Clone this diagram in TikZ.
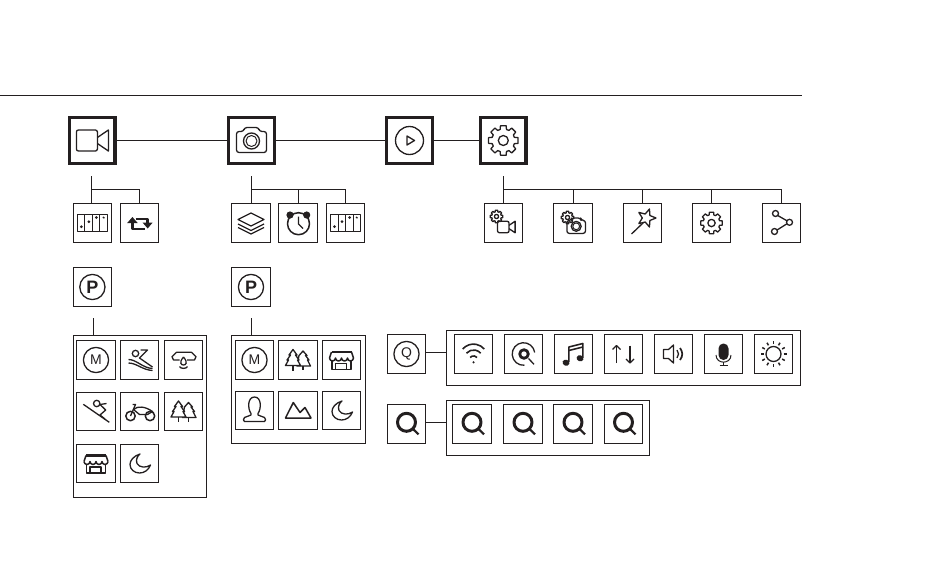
\documentclass[tikz,border=0pt]{standalone}
\usepackage{fontspec}
\setsansfont{Liberation Sans}
\definecolor{ink}{HTML}{231F20}

\tikzset{
	mainbox/.style={shape=rectangle,draw=ink,line width=3.3pt,minimum size=45.4pt,inner sep=0pt},
	toolbox/.style={shape=rectangle,draw=ink,line width=1pt,minimum size=38.4pt,inner sep=0pt},
	panelbox/.style={shape=rectangle,draw=ink,line width=1pt,inner sep=0pt},
	link/.style={-,draw=ink,line width=1pt},
	glyph/.style={draw=ink,line width=1.3pt,line join=round},
	letterP/.style={font=\sffamily\bfseries\fontsize{18}{18}\selectfont},
	letterM/.style={font=\sffamily\fontsize{14}{14}\selectfont},
	letterQ/.style={font=\sffamily\fontsize{14}{14}\selectfont},
	iconvideo/.pic={
		\draw[glyph,rounded corners=2pt] (-16,-10.5) rectangle (5,10.5);
		\draw[glyph] (5,-3) -- (16,-10.5) -- (16,10.5) -- (5,3);
	},
	iconcamera/.pic={
		\draw[glyph,rounded corners=2.5pt] (-15,12) -- (-15,-9) -- (-8,-9) -- (-7,-13) -- (7,-13) -- (8,-9) -- (15,-9) -- (15,12) -- cycle;
		\draw[glyph] (0,.5) circle[radius=8];
		\draw[glyph,line width=1pt] (0,.5) circle[radius=5.5];
	},
	iconplay/.pic={
		\draw[glyph] (0,0) circle[radius=14];
		\draw[glyph] (-2.5,-4.5) -- (5,0) -- (-2.5,4.5) -- cycle;
	},
	icongear/.pic={
		\draw[glyph] (-16:11.5) \foreach \a in {0,45,...,315} { -- (\a-16:11.5) -- (\a-11:15) -- (\a+11:15) -- (\a+16:11.5) } -- cycle;
		\draw[glyph] (0,0) circle[radius=5];
	},
	iconstrip/.pic={
		\draw[glyph,line width=1pt] (-15,-8.5) rectangle (15,8.5);
		\foreach \x in {-7.5,0,7.5} \draw[glyph,line width=1pt] (\x,-8.5) -- (\x,8.5);
		\foreach \x/\y in {-11/3.7,-3.5/-1.3,4/-5.5} \fill[ink] (\x,\y) circle[radius=1.5];
		\draw[glyph] (10.5,-6) -- (12,-4.8);
	},
	iconloop/.pic={
		\draw[glyph,line width=2.6pt] (-7.3,0) -- (-7.3,6) -- (5,6);
		\fill[ink] (-12.5,0) -- (-7.3,-6) -- (-2,0) -- cycle;
		\draw[glyph,line width=2.6pt] (-4,-4) -- (8,-4) -- (8,0);
		\fill[ink] (2.8,-.5) -- (13,-.5) -- (8,5.5) -- cycle;
	},
	iconlayers/.pic={
		\draw[glyph] (-13,-3.5) -- (0,-10) -- (13,-3.5) -- (0,3) -- cycle;
		\draw[glyph] (-13,1) -- (0,7.5) -- (13,1);
		\draw[glyph] (-13,4.5) -- (0,11) -- (13,4.5);
	},
	iconclock/.pic={
		\draw[glyph,line width=1.5pt] (.5,.7) circle[radius=11];
		\fill[ink] (-8,-8) circle[radius=3.6];
		\fill[ink] (8.7,-8) circle[radius=3.6];
		\draw[glyph] (.5,-6.5) -- (.5,1) -- (5,5.5);
	},
	iconwand/.pic={
		\draw[glyph] (-11,11) -- (.8,-.3);
		\begin{scope}[shift={(4,-5)}]
			\draw[glyph] (-72:9.5) \foreach \a in {-72,0,72,144,216} { -- (\a:9.5) -- (\a+36:4.2) } -- cycle;
		\end{scope}
	},
	iconshare/.pic={
		\draw[glyph] (-6,-9.5) circle[radius=3];
		\draw[glyph] (8,-.7) circle[radius=3];
		\draw[glyph] (-7,8.5) circle[radius=3];
		\draw[glyph] (-3.8,-7.5) -- (5.5,-2.2);
		\draw[glyph] (-4.4,7) -- (5.4,.8);
	},
	iconring/.pic={
		\draw[glyph] (0,0) circle[radius=12.6];
	},
	iconrider/.pic={
		\draw[glyph] (-4,-6.5) circle[radius=3.2];
		\draw[glyph] (1,-10) -- (8,-10) -- (0,-2) -- (13,7);
		\draw[glyph] (-11,-.5) .. controls (-3,-.5) and (3,8) .. (13,8.5);
		\draw[glyph] (-11,3) .. controls (-3,3) and (3,10) .. (13,10.5);
	},
	iconwater/.pic={
		\draw[glyph] (-4,0) -- (-10,0) -- (-11.5,-3.3) -- (-7,-7.7) -- (8,-7.7) -- (12.5,-3.3) -- (11,0) -- (3.5,0);
		\draw[glyph] (0,-3) .. controls (-5,3) and (-2,5) .. (0,5) .. controls (2,5) and (5,3) .. (0,-3);
		\draw[glyph] (-4,6.5) .. controls (-3,9) and (3,9) .. (4,6.5);
	},
	iconskier/.pic={
		\draw[glyph] (.7,-8) circle[radius=3.2];
		\draw[glyph] (-12.7,-7.2) -- (13.3,10.8);
		\draw[glyph] (4,-7) -- (10.5,-8);
		\draw[glyph] (4,-7) -- (9.7,-1.5) -- (4,3.5) -- (9,7.5);
	},
	iconbike/.pic={
		\draw[glyph,line width=1.5pt] (-9,4.5) circle[radius=4.7];
		\draw[glyph,line width=1.5pt] (10.5,4.5) circle[radius=4.7];
		\draw[glyph] (-9,4.5) -- (-4,-7) -- (-7,-7);
		\draw[glyph] (-6,-2) .. controls (-2,-6) and (6,-5) .. (13,0) -- (8,3) -- (0,3) -- cycle;
	},
	iconfirs/.pic={
		\draw[glyph,fill=white] (5,-9) -- (9,-4.5) -- (7.5,-4.5) -- (11,0) -- (9.5,0) -- (12.5,6) -- (-1,6) -- (1,-4.5) -- cycle;
		\draw[glyph] (5,6) -- (5,10);
		\draw[glyph,fill=white] (-5,-10.5) -- (-1,-5) -- (-2.5,-5) -- (1,0) -- (-.5,0) -- (2.5,5.5) -- (-12.5,5.5) -- (-9.5,0) -- (-11,0) -- (-7.5,-5) -- (-9,-5) -- cycle;
		\draw[glyph] (-5,5.5) -- (-5,10.5);
	},
	iconstore/.pic={
		\draw[glyph,line width=2.2pt] (-10,-8) -- (10,-8);
		\draw[glyph,line width=1.5pt] (-10,-8) -- (-12,-2);
		\draw[glyph,line width=1.5pt] (10,-8) -- (12,-2);
		\draw[glyph,line width=1.5pt] (-12,-2) arc[start angle=180,end angle=0,radius=3] arc[start angle=180,end angle=0,radius=3] arc[start angle=180,end angle=0,radius=3] arc[start angle=180,end angle=0,radius=3];
		\draw[glyph,line width=1.5pt] (-9.5,1) -- (-9.5,9.5) -- (9.5,9.5) -- (9.5,1);
		\draw[glyph,line width=1.5pt] (-6,9.5) -- (-6,3.5) -- (5,3.5) -- (5,9.5);
	},
	iconmoon/.pic={
		\draw[glyph] (.5,-9.5) .. controls (-6,-7.5) and (-9.5,-3) .. (-9.5,1) .. controls (-9.5,6) and (-5,9.5) .. (0,9.5) .. controls (5,9.5) and (9,6.5) .. (11,1.5) .. controls (7,4.5) and (0,4.5) .. (-2.5,0) .. controls (-4,-4) and (-2,-7.5) .. cycle;
	},
	iconperson/.pic={
		\draw[glyph] (-3.5,3) .. controls (-7,-2) and (-7,-13.5) .. (0,-13.5) .. controls (7,-13.5) and (7,-2) .. (3.5,3) -- (3.5,4.5) -- (10,7) .. controls (11.5,8) and (11.5,11) .. (10,11) -- (-10,11) .. controls (-11.5,11) and (-11.5,8) .. (-10,7) -- (-3.5,4.5) -- cycle;
	},
	iconpeaks/.pic={
		\draw[glyph,line width=1.5pt] (-12.5,7.5) -- (-4.7,-8) -- (2,2) -- (7,-3) -- (13,7.5) -- cycle;
	},
	iconwifi/.pic={
		\draw[glyph,line width=1.6pt] (-10.8,-5) arc[start angle=221,end angle=319,radius=14.3];
		\draw[glyph,line width=1.6pt] (-7,-.8) arc[start angle=221,end angle=319,radius=9.4];
		\draw[glyph,line width=1.6pt] (-3.4,3.5) arc[start angle=221,end angle=319,radius=4.6];
		\fill[ink] (0,8.3) circle[radius=1.2];
	},
	icontarget/.pic={
		\draw[glyph] (85:11.3) arc[start angle=85,end angle=352,radius=11.3];
		\draw[glyph,line width=2.8pt] (.5,0) circle[radius=4.3];
		\draw[glyph] (5,4.5) -- (10.5,10.3);
	},
	iconmusic/.pic={
		\fill[ink,rotate around={-20:(-7.5,8.7)}] (-7.5,8.7) ellipse[x radius=3.5,y radius=3];
		\fill[ink,rotate around={-20:(6.5,4.3)}] (6.5,4.3) ellipse[x radius=3.5,y radius=3];
		\draw[glyph,line width=1.6pt] (-4.6,8) -- (-4.6,-7) -- (9.4,-10.5) -- (9.4,4);
		\draw[glyph,line width=1.6pt] (-4.6,-3.5) -- (9.4,-7);
	},
	iconupdown/.pic={
		\draw[glyph,line width=1.1pt] (-7,9) -- (-7,-8.5);
		\draw[glyph,line width=1.1pt] (-11,-4.5) -- (-7,-8.5) -- (-3,-4.5);
		\draw[glyph,line width=1.1pt] (6.5,-8.5) -- (6.5,9);
		\draw[glyph,line width=1.1pt] (2.5,5) -- (6.5,9) -- (10.5,5);
	},
	iconspeaker/.pic={
		\draw[glyph] (-10,-4.5) -- (-5,-4.5) -- (0,-9) -- (0,9) -- (-5,4.5) -- (-10,4.5) -- cycle;
		\draw[glyph] (3.5,-4) .. controls (5.5,-1.5) and (5.5,1.5) .. (3.5,4);
		\draw[glyph,line width=1.7pt] (6.5,-6) .. controls (9.5,-2) and (9.5,2) .. (6.5,6);
	},
	iconmic/.pic={
		\fill[ink,rounded corners=4.9pt] (-5,-10.5) rectangle (5,6);
		\draw[glyph,line width=1pt] (-7.5,1) .. controls (-7.5,10.5) and (7.5,10.5) .. (7.5,1);
		\draw[glyph,line width=1pt] (0,8) -- (0,11);
		\draw[glyph,line width=1pt] (-4,11) -- (4,11);
	},
	iconsun/.pic={
		\draw[glyph] (0,0) circle[radius=7.5];
		\foreach \a in {0,30,...,330} \draw[glyph,line width=1.5pt] (\a:10) -- (\a:13);
	},
	iconsearch/.pic={
		\draw[glyph,line width=3pt] (0,-1.7) circle[radius=9];
		\draw[glyph,line width=2.2pt] (6.5,5) -- (12,10.3);
	},
}

\begin{document}
\begin{tikzpicture}[x=1pt,y=-1pt,color=ink]
	
	\useasboundingbox (0,0) rectangle (950,565);
	
	\coordinate (ruleleft) at (0,95.5);
	\coordinate (ruleright) at (802,95.5);
	\coordinate (vidstub) at (91.5,176);
	\coordinate (vidjoin) at (91.5,189.5);
	\coordinate (camstub) at (251.5,176);
	\coordinate (camjoin) at (251.5,189.5);
	\coordinate (setstub) at (503.5,176);
	\coordinate (setjoin) at (503.5,189.5);
	\coordinate (lowstubA) at (93.5,318);
	\coordinate (lowstubB) at (251.5,318);
	
	\node[mainbox] (video)   at (92.4, 140.5) {};
	\node[mainbox] (camera)  at (251.5,140.5) {};
	\node[mainbox] (play)    at (409.5,140.5) {};
	\node[mainbox] (setting) at (503.3,140.5) {};
	
	\node[toolbox] (vidstrip) at (92.4, 223) {};
	\node[toolbox] (vidloop)  at (139.7,223) {};
	\node[toolbox] (camlayer) at (251,  223) {};
	\node[toolbox] (camclock) at (298,  223) {};
	\node[toolbox] (camstrip) at (345.5,223) {};
	\node[toolbox] (setvideo) at (503.5,223) {};
	\node[toolbox] (setcam)   at (573,  223) {};
	\node[toolbox] (setwand)  at (642.5,223) {};
	\node[toolbox] (setgear)  at (711.5,223) {};
	\node[toolbox] (setshare) at (781.5,223) {};
	
	\node[toolbox,letterP] (parkA) at (92.4,287) {P};
	\node[toolbox,letterP] (parkB) at (251, 287) {P};
	
	\node[panelbox,minimum width=133pt,minimum height=162pt] (panelA) at (140,  416.5) {};
	\node[panelbox,minimum width=134pt,minimum height=108pt] (panelB) at (298.5,389.5) {};
	\node[panelbox,minimum width=354pt,minimum height=55pt]  (panelC) at (623.5,358)   {};
	\node[panelbox,minimum width=203pt,minimum height=55pt]  (panelD) at (548,  428)   {};
	
	\node[toolbox,letterM] (modeA)  at (96,   360)   {M};
	\node[toolbox] (riderA) at (139.5,360)   {};
	\node[toolbox] (waterA) at (183.5,360)   {};
	\node[toolbox] (skierA) at (96,   411.5) {};
	\node[toolbox] (bikeA)  at (139.5,411.5) {};
	\node[toolbox] (firsA)  at (183.5,411.5) {};
	\node[toolbox] (storeA) at (96,   463.5) {};
	\node[toolbox] (moonA)  at (139.5,463.5) {};
	
	\node[toolbox,letterM] (modeB)   at (254.5,360)   {M};
	\node[toolbox] (firsB)   at (298,  360)   {};
	\node[toolbox] (storeB)  at (341.5,360)   {};
	\node[toolbox] (personB) at (254.5,410.5) {};
	\node[toolbox] (peaksB)  at (298,  410.5) {};
	\node[toolbox] (moonB)   at (341.5,410.5) {};
	
	\node[toolbox,letterQ] (quick) at (406.5,354) {Q};
	\node[toolbox] (wifi)   at (473.5,354) {};
	\node[toolbox] (target) at (523.5,354) {};
	\node[toolbox] (music)  at (573.5,354) {};
	\node[toolbox] (updown) at (623.5,354) {};
	\node[toolbox] (sound)  at (673.5,354) {};
	\node[toolbox] (mic)    at (723.5,354) {};
	\node[toolbox] (sun)    at (773.5,354) {};
	
	\node[toolbox] (find)  at (406.5,424) {};
	\node[toolbox] (findA) at (472,  424) {};
	\node[toolbox] (findB) at (523,  424) {};
	\node[toolbox] (findC) at (573,  424) {};
	\node[toolbox] (findD) at (623.5,424) {};
	
	
	\path[link] (ruleleft) edge (ruleright);
	\path[link] (video) edge (camera);
	\path[link] (camera) edge (play);
	\path[link] (play) edge (setting);
	
	\path[link] (vidstub) edge (vidstub |- vidstrip.north);
	\draw[link] (vidjoin) -| (vidloop.north);
	\path[link] (camstub) edge (camstub |- camlayer.north);
	\draw[link] (camjoin) -| (camclock.north);
	\draw[link] (camjoin) -| (camstrip.north);
	\path[link] (setstub) edge (setstub |- setvideo.north);
	\draw[link] (setjoin) -| (setcam.north);
	\draw[link] (setjoin) -| (setwand.north);
	\draw[link] (setjoin) -| (setgear.north);
	\draw[link] (setjoin) -| (setshare.north);
	
	\path[link] (lowstubA) edge (lowstubA |- panelA.north);
	\path[link] (lowstubB) edge (lowstubB |- panelB.north);
	\path[link] ([yshift=1.5pt]quick.east) edge ([yshift=1.5pt]quick.east -| panelC.west);
	\path[link] ([yshift=1.5pt]find.east) edge ([yshift=1.5pt]find.east -| panelD.west);
	
	
	\pic at (video) {iconvideo};
	\pic at (camera) {iconcamera};
	\pic at (play) {iconplay};
	\pic at (setting) {icongear};
	
	\pic at (vidstrip) {iconstrip};
	\pic at (vidloop) {iconloop};
	\pic at (camlayer) {iconlayers};
	\pic at (camclock) {iconclock};
	\pic at (camstrip) {iconstrip};
	
	\pic[scale=.42] at ([shift={(-7,-6.5)}]setvideo) {icongear};
	\pic[scale=.55] at ([shift={(2.8,4)}]setvideo) {iconvideo};
	\pic[scale=.42] at ([shift={(-5.5,-5.5)}]setcam) {icongear};
	\pic[scale=.62] at ([shift={(3.2,3)}]setcam) {iconcamera};
	\pic at (setwand) {iconwand};
	\pic[scale=.73] at (setgear) {icongear};
	\pic at (setshare) {iconshare};
	
	\foreach \n in {parkA,parkB,modeA,modeB,quick}
		\pic at (\n) {iconring};
	
	\pic at (riderA) {iconrider};
	\pic at (waterA) {iconwater};
	\pic at (skierA) {iconskier};
	\pic at (bikeA) {iconbike};
	\pic at (firsA) {iconfirs};
	\pic at (storeA) {iconstore};
	\pic at (moonA) {iconmoon};
	
	\pic at (firsB) {iconfirs};
	\pic at (storeB) {iconstore};
	\pic at (personB) {iconperson};
	\pic at (peaksB) {iconpeaks};
	\pic at (moonB) {iconmoon};
	
	\pic at (wifi) {iconwifi};
	\pic at (target) {icontarget};
	\pic at (music) {iconmusic};
	\pic at (updown) {iconupdown};
	\pic at (sound) {iconspeaker};
	\pic at (mic) {iconmic};
	\pic at (sun) {iconsun};
	
	\foreach \n in {find,findA,findB,findC,findD}
		\pic at (\n) {iconsearch};
	
\end{tikzpicture}
\end{document}
